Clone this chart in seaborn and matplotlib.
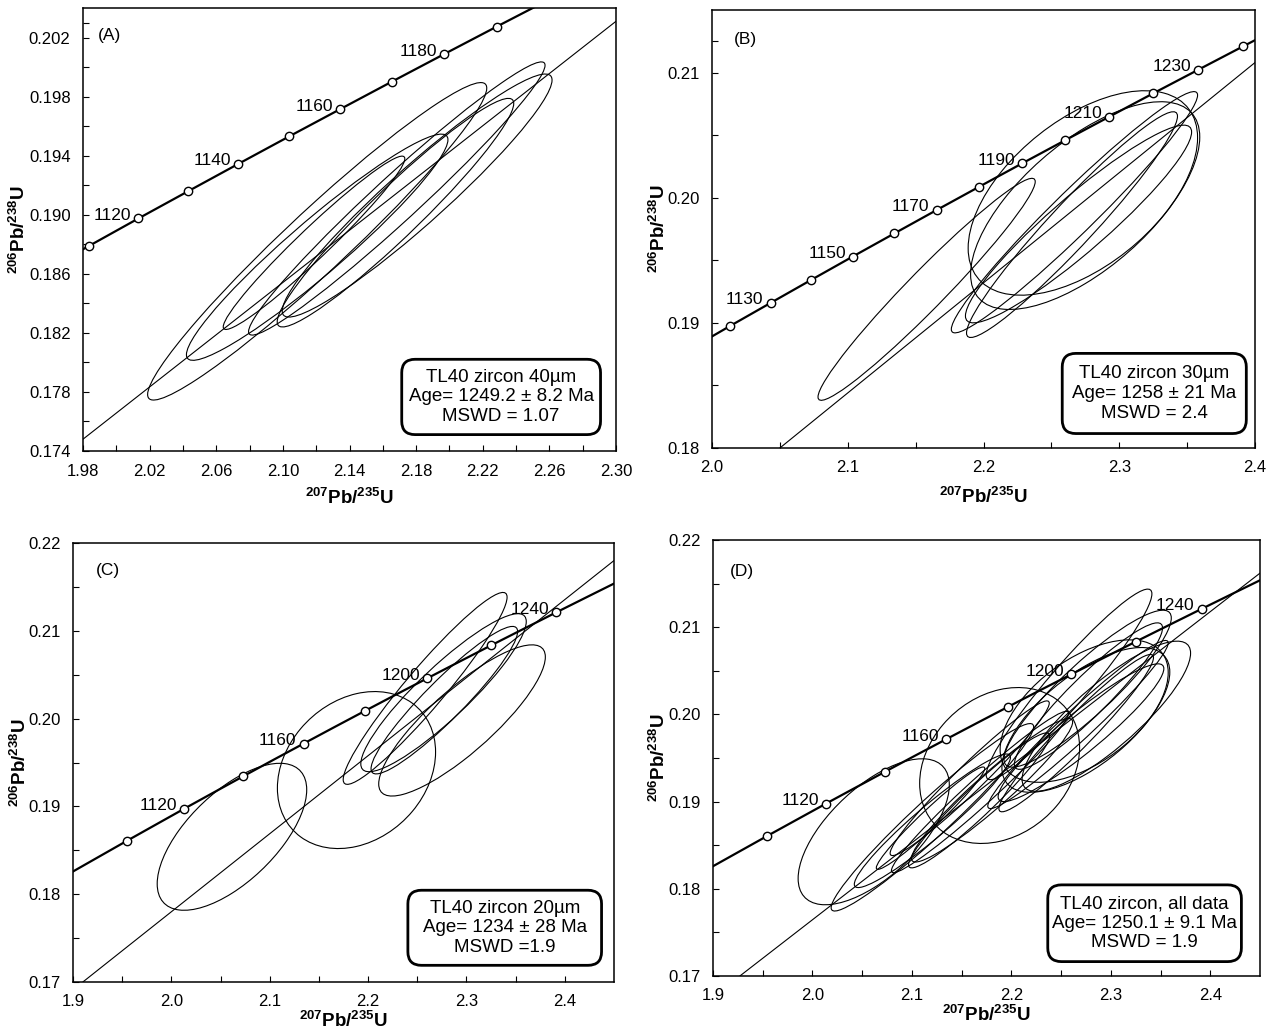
import numpy as np
import matplotlib
matplotlib.use("Agg")
import matplotlib.pyplot as plt
import seaborn as sns
from matplotlib.patches import Ellipse, FancyBboxPatch
from matplotlib.transforms import Affine2D
from matplotlib.ticker import FixedLocator, FormatStrFormatter

# ---------------- data ----------------
# concordia reference points (age Ma, 207Pb/235U, 206Pb/238U)
conc_age = [1080, 1090, 1100, 1110, 1120, 1130, 1140, 1150, 1160, 1170,
            1180, 1190, 1200, 1210, 1220, 1230, 1240, 1250, 1260, 1270]
conc_x = [1.8969, 1.9256, 1.9545, 1.9838, 2.0133, 2.0431, 2.0732, 2.1037, 2.1344, 2.1654,
          2.1967, 2.2284, 2.2603, 2.2926, 2.3252, 2.3581, 2.3913, 2.4249, 2.4588, 2.4930]
conc_y = [0.18239, 0.18422, 0.18606, 0.18790, 0.18975, 0.19159, 0.19344, 0.19530, 0.19715, 0.19901,
          0.20087, 0.20274, 0.20460, 0.20647, 0.20835, 0.21022, 0.21210, 0.21398, 0.21587, 0.21776]

# marker ages and labelled ages per panel
marks_A = [1110, 1120, 1130, 1140, 1150, 1160, 1170, 1180, 1190]
labels_A = [1120, 1140, 1160, 1180]
marks_B = [1120, 1130, 1140, 1150, 1160, 1170, 1180, 1190, 1200, 1210, 1220, 1230, 1240]
labels_B = [1130, 1150, 1170, 1190, 1210, 1230]
marks_C = [1100, 1120, 1140, 1160, 1180, 1200, 1220, 1240]
labels_C = [1120, 1160, 1200, 1240]
marks_D = [1100, 1120, 1140, 1160, 1180, 1200, 1220, 1240]
labels_D = [1120, 1160, 1200, 1240]

# discordia lines (endpoints)
disc_A_x = [1.98, 2.30]
disc_A_y = [0.1748, 0.2031]
disc_B_x = [2.05, 2.40]
disc_B_y = [0.1800, 0.2108]
disc_C_x = [1.91, 2.45]
disc_C_y = [0.1700, 0.2180]
disc_D_x = [1.927, 2.45]
disc_D_y = [0.1700, 0.2162]

# error ellipses: centre x, centre y, half-width x, half-height y, correlation
ellA_cx = [2.1206, 2.1206, 2.1187, 2.1684, 2.1676, 2.1806]
ellA_cy = [0.1882, 0.1878, 0.1881, 0.1911, 0.19014, 0.1913]
ellA_hx = [0.1018, 0.0785, 0.0545, 0.0890, 0.0710, 0.0810]
ellA_hy = [0.01075, 0.00766, 0.00587, 0.00925, 0.00774, 0.00823]
ellA_rho = [0.965, 0.95, 0.97, 0.975, 0.955, 0.95]

ellB_cx = [2.1581, 2.2732, 2.2749, 2.2670, 2.2652, 2.2700]
ellB_cy = [0.19268, 0.20038, 0.19937, 0.19884, 0.19785, 0.1979]
ellB_hx = [0.0800, 0.0845, 0.0844, 0.0907, 0.0777, 0.0833]
ellB_hy = [0.00887, 0.00817, 0.00830, 0.00964, 0.00902, 0.0079]
ellB_rho = [0.97, 0.54, 0.66, 0.97, 0.96, 0.93]

ellC_cx = [2.0616, 2.1882, 2.2955, 2.2580, 2.2767, 2.2775]
ellC_cy = [0.18654, 0.19414, 0.19979, 0.20344, 0.20295, 0.2021]
ellC_hx = [0.0760, 0.0804, 0.0847, 0.0833, 0.0841, 0.0745]
ellC_hy = [0.00837, 0.00894, 0.00861, 0.01093, 0.0090, 0.0084]
ellC_rho = [0.64, 0.23, 0.84, 0.95, 0.90, 0.93]

# tick values
xticks_A = [1.98, 2.02, 2.06, 2.10, 2.14, 2.18, 2.22, 2.26, 2.30]
yticks_A = [0.174, 0.178, 0.182, 0.186, 0.190, 0.194, 0.198, 0.202]
xticks_B = [2.0, 2.1, 2.2, 2.3, 2.4]
yticks_B = [0.18, 0.19, 0.20, 0.21]
xticks_CD = [1.9, 2.0, 2.1, 2.2, 2.3, 2.4]
yticks_CD = [0.17, 0.18, 0.19, 0.20, 0.21, 0.22]

# panel texts
panel_tags = ["(A)", "(B)", "(C)", "(D)"]
box_texts = [
    "TL40 zircon 40\u00b5m\nAge= 1249.2 \u00b1 8.2 Ma\nMSWD = 1.07",
    "TL40 zircon 30\u00b5m\nAge= 1258 \u00b1 21 Ma\nMSWD = 2.4",
    "TL40 zircon 20\u00b5m\nAge= 1234 \u00b1 28 Ma\nMSWD =1.9",
    "TL40 zircon, all data\nAge= 1250.1 \u00b1 9.1 Ma\nMSWD = 1.9",
]

# ---------------- style ----------------
sns.set_theme(style="ticks")
plt.rcParams['font.family'] = ['Liberation Sans', 'DejaVu Sans']
plt.rcParams['mathtext.fontset'] = 'custom'
plt.rcParams['mathtext.rm'] = 'Liberation Sans'
plt.rcParams['mathtext.bf'] = 'Liberation Sans:bold'
plt.rcParams['mathtext.it'] = 'Liberation Sans:italic'

fig = plt.figure(figsize=(12.7, 10.36), dpi=100)

W, H = 1270.0, 1036.0
def rect(l, r, t, b):
    return [l / W, 1 - b / H, (r - l) / W, (b - t) / H]

def minor_between(ticks):
    t = list(ticks)
    return [(a + b) / 2 for a, b in zip(t[:-1], t[1:])]

panels = [
    dict(rect=rect(83, 616, 8, 451), xlim=(1.98, 2.30), ylim=(0.174, 0.204),
         xt=xticks_A, yt=yticks_A, xfmt='%.2f', yfmt='%.3f', yextra=[0.204],
         marks=marks_A, labels=labels_A, disc=(disc_A_x, disc_A_y),
         ells=[(ellA_cx, ellA_cy, ellA_hx, ellA_hy, ellA_rho)],
         box=(0.598, 0.037, 0.373, 0.170), tag=(0.027, 0.955), ylab_x=-0.102, xlab_y=-0.083),
    dict(rect=rect(712, 1255, 10, 448), xlim=(2.0, 2.4), ylim=(0.18, 0.215),
         xt=xticks_B, yt=yticks_B, xfmt='%.1f', yfmt='%.2f', yextra=[0.215],
         marks=marks_B, labels=labels_B, disc=(disc_B_x, disc_B_y),
         ells=[(ellB_cx, ellB_cy, ellB_hx, ellB_hy, ellB_rho)],
         box=(0.645, 0.033, 0.339, 0.183), tag=(0.04, 0.95), ylab_x=-0.079, xlab_y=-0.089),
    dict(rect=rect(73, 614, 543, 982), xlim=(1.9, 2.45), ylim=(0.17, 0.22),
         xt=xticks_CD, yt=yticks_CD, xfmt='%.1f', yfmt='%.2f', yextra=[],
         marks=marks_C, labels=labels_C, disc=(disc_C_x, disc_C_y),
         ells=[(ellC_cx, ellC_cy, ellC_hx, ellC_hy, ellC_rho)],
         box=(0.619, 0.038, 0.358, 0.171), tag=(0.042, 0.954), ylab_x=-0.080, xlab_y=-0.065),
    dict(rect=rect(713, 1260, 540, 976), xlim=(1.9, 2.45), ylim=(0.17, 0.22),
         xt=xticks_CD, yt=yticks_CD, xfmt='%.1f', yfmt='%.2f', yextra=[],
         marks=marks_D, labels=labels_D, disc=(disc_D_x, disc_D_y),
         ells=[(ellA_cx, ellA_cy, ellA_hx, ellA_hy, ellA_rho),
               (ellB_cx, ellB_cy, ellB_hx, ellB_hy, ellB_rho),
               (ellC_cx, ellC_cy, ellC_hx, ellC_hy, ellC_rho)],
         box=(0.612, 0.033, 0.354, 0.176), tag=(0.031, 0.946), ylab_x=-0.080, xlab_y=-0.067),
]

age_to_idx = {a: i for i, a in enumerate(conc_age)}

for k, p in enumerate(panels):
    ax = fig.add_axes(p['rect'])
    ax.set_facecolor('white')

    # error ellipses
    for cxs, cys, hxs, hys, rhos in p['ells']:
        for cx, cy, hx, hy, rho in zip(cxs, cys, hxs, hys, rhos):
            m = np.array([[hx, 0.0, cx],
                          [hy * rho, hy * np.sqrt(1 - rho ** 2), cy],
                          [0.0, 0.0, 1.0]])
            e = Ellipse((0, 0), 2, 2, transform=Affine2D(m) + ax.transData,
                        fill=False, ec='black', lw=0.8, zorder=2)
            ax.add_patch(e)

    # discordia
    sns.lineplot(x=p['disc'][0], y=p['disc'][1], ax=ax, color='black', lw=0.8,
                 sort=False, estimator=None, zorder=3)

    # concordia curve
    sns.lineplot(x=conc_x, y=conc_y, ax=ax, color='black', lw=1.6,
                 sort=False, estimator=None, zorder=4)
    mx = [conc_x[age_to_idx[a]] for a in p['marks']]
    my = [conc_y[age_to_idx[a]] for a in p['marks']]
    sns.scatterplot(x=mx, y=my, ax=ax, marker='o', s=36, facecolor='white',
                    edgecolor='black', linewidth=1.0, zorder=6, clip_on=False)
    for a in p['labels']:
        ax.annotate(str(a), (conc_x[age_to_idx[a]], conc_y[age_to_idx[a]]),
                    xytext=(-5, -1), textcoords='offset points', ha='right',
                    va='baseline', fontsize=12.5, color='black', zorder=7)

    ax.set_xlim(*p['xlim'])
    ax.set_ylim(*p['ylim'])
    ax.xaxis.set_major_locator(FixedLocator(p['xt']))
    ax.xaxis.set_minor_locator(FixedLocator(minor_between(p['xt'])))
    ax.yaxis.set_major_locator(FixedLocator(p['yt']))
    ax.yaxis.set_minor_locator(FixedLocator(minor_between(list(p['yt']) + p['yextra'])))
    ax.xaxis.set_major_formatter(FormatStrFormatter(p['xfmt']))
    ax.yaxis.set_major_formatter(FormatStrFormatter(p['yfmt']))
    ax.tick_params(which='both', direction='in', top=False, right=False,
                   length=4, width=0.8, color='black')
    ax.tick_params(which='major', labelsize=12, pad=9, labelcolor='black')
    for s in ax.spines.values():
        s.set_visible(True)
        s.set_color('black')
        s.set_linewidth(1.1)

    ax.set_xlabel(r'$\mathbf{^{207}Pb/^{235}U}$', fontsize=13.5, color='black')
    ax.set_ylabel(r'$\mathbf{^{206}Pb/^{238}U}$', fontsize=13.5, color='black')
    ax.xaxis.set_label_coords(0.5, p['xlab_y'])
    ax.yaxis.set_label_coords(p['ylab_x'], 0.5)

    ax.text(p['tag'][0], p['tag'][1], panel_tags[k], transform=ax.transAxes,
            ha='left', va='top', fontsize=12.5, color='black')

    bx, by, bw, bh = p['box']
    bb = ax.get_window_extent()
    asp = bb.width / bb.height
    patch = FancyBboxPatch((bx, by), bw, bh, boxstyle='round,pad=0,rounding_size=0.025',
                           mutation_aspect=asp, transform=ax.transAxes,
                           fc='white', ec='black', lw=2.0, zorder=8)
    ax.add_patch(patch)
    ax.text(bx + bw / 2, by + bh / 2, box_texts[k], transform=ax.transAxes,
            ha='center', va='center', multialignment='center', fontsize=13.5,
            linespacing=1.2, color='black', zorder=9)

fig.savefig('out.png', dpi=100, facecolor='white')
